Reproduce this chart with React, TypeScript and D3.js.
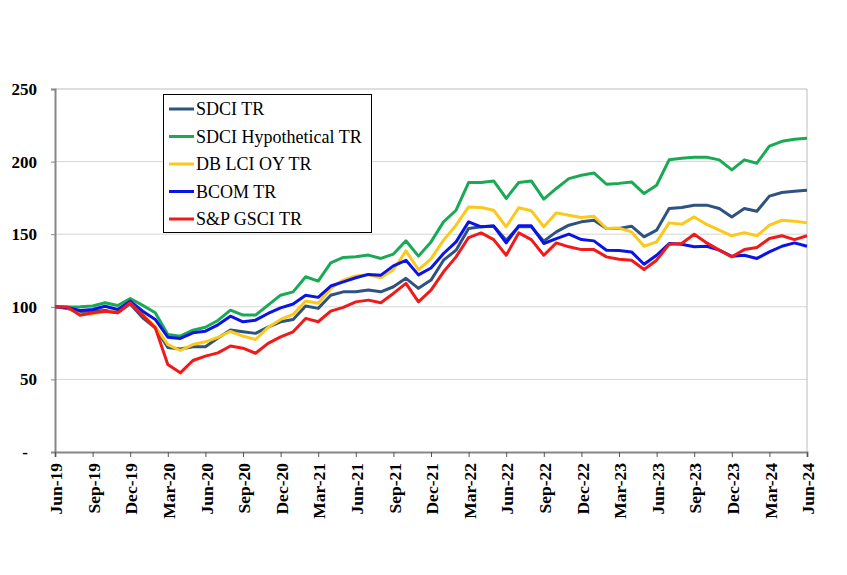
import * as d3 from 'd3';
import { useEffect, useRef } from 'react';

// monthly index levels, Jun-19 .. Jun-24 (61 points)
const sdciTR = [
  100, 98.8, 95.9, 97, 97.5, 95.9, 102, 92.4, 85.5, 72, 71, 72.5, 72.5, 78.5, 84,
  82.8, 81.7, 86, 89.7, 91.3, 100.5, 98.9, 108, 110.3, 110.3, 111.5, 110.3, 113.8,
  119.6, 112.7, 118.4, 132.1, 139, 153.9, 155.1, 155.6, 145.9, 155.1, 155.1, 145.2,
  151.6, 156.2, 158.5, 159.6, 153.9, 153.9, 155.5, 148.2, 152.8, 167.7, 168.4, 170,
  170, 167.7, 161.9, 167.7, 165.8, 176.2, 178.7, 179.6, 180.3,
];
const sdciHypTR = [
  100, 99.8, 100, 100.5, 102.8, 100.9, 105.7, 101, 95.9, 80.9, 79.8, 83.9, 85.9,
  90.6, 97.7, 94.3, 94.3, 101.2, 108, 110.3, 120.7, 117.7, 130.3, 134, 134.4, 135.6,
  133.3, 136.3, 145.5, 134.9, 144.7, 158.5, 166.5, 185.6, 185.6, 186.7, 174.6, 185.6,
  186.7, 174.1, 181.5, 188.3, 190.6, 192.2, 184.4, 185, 186, 178, 183.7, 201.2,
  202.3, 203, 203, 201.2, 194.3, 201.2, 198.9, 210.6, 214, 215.4, 216.1,
];
const dbLciOyTR = [
  100, 99.3, 94.7, 95.2, 96.6, 96.6, 102.8, 94.7, 86.6, 74, 69.9, 74, 75.9, 79, 83,
  79.8, 77.5, 85.8, 91.3, 94.8, 104, 102.5, 112.6, 118.4, 121.3, 122, 120, 125.5,
  138.5, 125.5, 133, 145.9, 156.2, 168.8, 168.4, 166.5, 155.1, 168.2, 166.2, 155.1,
  164.7, 163.1, 161.5, 162.4, 153.9, 154.2, 151.6, 141.7, 144.7, 157.8, 156.9, 161.9,
  156.7, 152.8, 148.9, 151.1, 148.9, 156.2, 159.6, 159, 157.8,
];
const bcomTR = [
  100, 99.3, 97.5, 98.1, 100.4, 98.1, 103.9, 97, 91.3, 79.1, 78.2, 82.1, 83.2, 87.6,
  93.5, 89.7, 90.8, 95.4, 99.3, 101.9, 108, 106.5, 114.3, 117.2, 120, 122.3, 121.8,
  128.2, 132, 122, 126.7, 136.7, 144.7, 158.5, 155.1, 155.6, 144, 155.8, 155.8, 143.6,
  147, 150, 146.3, 145.4, 139, 138.7, 137.8, 129.3, 135.5, 143.6, 143.1, 141.3, 141.7,
  139, 134.8, 135.5, 133.3, 137.8, 141.7, 144, 141.7,
];
const spGsciTR = [
  100, 99.8, 94.2, 95.9, 97, 95.9, 102.8, 94.2, 85.5, 60.3, 54.5, 63, 66, 68.3, 73,
  71.5, 68, 74.8, 79.3, 82.8, 92, 89.7, 97, 99.6, 103.4, 104.6, 102.8, 109.2, 116.1,
  103.4, 111.5, 124.1, 134.4, 147.7, 150.9, 146.3, 135.5, 150.9, 146.3, 135.5, 144,
  141.3, 139.4, 139.4, 134.4, 132.8, 132.1, 125.7, 132.1, 143.1, 143.6, 150, 144, 139,
  134.4, 139.4, 140.8, 147, 148.9, 146.3, 148.9,
];

const tickLabels = [
  'Jun-19', 'Sep-19', 'Dec-19', 'Mar-20', 'Jun-20', 'Sep-20', 'Dec-20', 'Mar-21',
  'Jun-21', 'Sep-21', 'Dec-21', 'Mar-22', 'Jun-22', 'Sep-22', 'Dec-22', 'Mar-23',
  'Jun-23', 'Sep-23', 'Dec-23', 'Mar-24', 'Jun-24',
];
const yTicks = [0, 50, 100, 150, 200, 250];

const seriesNames = ['SDCI TR', 'SDCI Hypothetical TR', 'DB LCI OY TR', 'BCOM TR', 'S&P GSCI TR'];
const seriesColors = ['#2f5380', '#1aaa55', '#fbc91a', '#0a14e6', '#f01a1a'];
const seriesValues = [sdciTR, sdciHypTR, dbLciOyTR, bcomTR, spGsciTR];

const W = 847;
const H = 575;
const FONT = '"Liberation Serif", "Times New Roman", serif';

export default function App() {
  const svgRef = useRef<SVGSVGElement>(null);

  useEffect(() => {
    if (!svgRef.current) return;
    const svg = d3.select(svgRef.current);
    const left = 55;
    const right = 807;
    const top = 89;
    const bottom = 452;

    const x = d3.scaleLinear().domain([0, sdciTR.length - 1]).range([left, right]);
    const y = d3.scaleLinear().domain([0, 250]).range([bottom, top]);

    const root = svg.append('g');

    // gridlines
    root
      .append('g')
      .selectAll('line')
      .data(yTicks.filter((d) => d > 0))
      .join('line')
      .attr('x1', left)
      .attr('x2', right)
      .attr('y1', (d) => y(d))
      .attr('y2', (d) => y(d))
      .attr('stroke', (d) => (d === 250 ? '#bdbdbd' : '#d6d6d6'))
      .attr('stroke-width', 1);

    // right border
    root
      .append('line')
      .attr('x1', right)
      .attr('x2', right)
      .attr('y1', top)
      .attr('y2', bottom)
      .attr('stroke', '#bdbdbd');

    // y axis
    const yAxis = root
      .append('g')
      .attr('transform', `translate(${left},0)`)
      .call(
        d3
          .axisLeft(y)
          .tickValues(yTicks)
          .tickSize(4)
          .tickPadding(14)
          .tickFormat((d) => (d === 0 ? '-' : String(d))),
      );
    yAxis.select('.domain').attr('stroke', '#868686').attr('stroke-width', 2);
    yAxis.selectAll('.tick line').attr('stroke', '#868686');
    yAxis
      .selectAll<SVGTextElement, number>('text')
      .attr('font-family', FONT)
      .attr('font-weight', 'bold')
      .attr('font-size', 17)
      .attr('fill', '#000')
      .attr('dx', (d) => (d === 0 ? -9 : 0));

    // x axis
    const xAxis = root
      .append('g')
      .attr('transform', `translate(0,${bottom})`)
      .call(
        d3
          .axisBottom(x)
          .tickValues(d3.range(0, sdciTR.length, 3))
          .tickSize(5)
          .tickFormat((_, i) => tickLabels[i]),
      );
    xAxis.select('.domain').attr('stroke', '#868686').attr('stroke-width', 2);
    xAxis.selectAll('.tick line').attr('stroke', '#555');
    xAxis
      .selectAll('text')
      .attr('font-family', FONT)
      .attr('font-weight', 'bold')
      .attr('font-size', 17.5)
      .attr('fill', '#000')
      .attr('text-anchor', 'end')
      .attr('transform', 'rotate(-90)')
      .attr('x', -11)
      .attr('y', 0)
      .attr('dy', '0.38em');

    // series
    const pathLine = d3
      .line<number>()
      .x((_, i) => x(i))
      .y((d) => y(d));

    seriesValues.forEach((vals, k) => {
      root
        .append('path')
        .datum(vals)
        .attr('fill', 'none')
        .attr('stroke', seriesColors[k])
        .attr('stroke-width', 3)
        .attr('stroke-linejoin', 'round')
        .attr('d', pathLine);
    });

    // legend
    const lg = root.append('g');
    lg.append('rect')
      .attr('x', 163.5)
      .attr('y', 94.5)
      .attr('width', 208)
      .attr('height', 138)
      .attr('fill', '#fff')
      .attr('stroke', '#000')
      .attr('stroke-width', 1);
    seriesNames.forEach((name, k) => {
      const cy = 109 + k * 27.5;
      lg.append('line')
        .attr('x1', 169)
        .attr('x2', 194)
        .attr('y1', cy)
        .attr('y2', cy)
        .attr('stroke', seriesColors[k])
        .attr('stroke-width', 3);
      lg.append('text')
        .attr('x', 196)
        .attr('y', cy)
        .attr('dy', '0.35em')
        .attr('font-family', FONT)
        .attr('font-size', 18)
        .attr('fill', '#000')
        .text(name);
    });

    return () => {
      svg.selectAll('*').remove();
    };
  }, []);

  return (
    <svg
      ref={svgRef}
      width={W}
      height={H}
      style={{ position: 'absolute', left: 0, top: 0, background: '#fff' }}
    />
  );
}
